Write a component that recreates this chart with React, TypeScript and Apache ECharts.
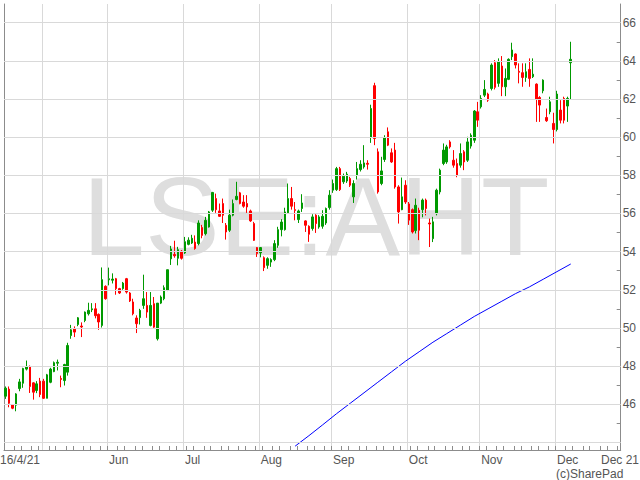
import React, { useEffect, useRef } from "react";
import * as echarts from "echarts";

// ---- Data ----
const opens = [
  46.42, 46.79, 45.98, 45.95, 46.82, 47.10, 47.84, 47.98, 47.12, 46.72, 47.21, 47.21, 46.31, 47.15, 47.71, 48.15, 47.35, 47.24, 47.68, 49.60,
  49.95, 50.18, 50.10, 50.39, 50.74, 50.95, 51.00, 50.71, 50.13, 52.18, 52.52, 52.50, 52.58, 52.06, 52.06, 52.58, 51.83, 51.36, 50.52, 50.54,
  51.18, 51.18, 50.13, 51.27, 49.43, 51.30, 51.53, 51.97, 53.62, 53.85, 53.65, 54.02, 53.93, 54.38, 54.45, 54.50, 54.42, 55.26, 54.94, 55.29,
  56.17, 56.78, 56.13, 56.52, 55.38, 55.12, 55.91, 56.73, 57.08, 56.60, 56.52, 56.13, 55.47, 54.21, 53.93, 53.68, 53.28, 53.45, 53.58, 54.33,
  55.15, 55.15, 56.03, 56.78, 56.20, 55.68, 56.26, 55.61, 55.33, 55.21, 55.91, 55.29, 55.33, 55.50, 56.31, 57.22, 57.25, 58.35, 57.66, 57.70,
  57.83, 56.87, 58.00, 58.30, 58.44, 58.63, 60.00, 62.70, 59.23, 57.57, 58.83, 60.28, 59.18, 59.32, 57.39, 56.20, 57.48, 56.50, 56.20, 55.10,
  56.17, 56.20, 56.70, 55.50, 54.68, 55.99, 57.13, 58.62, 58.70, 59.75, 58.79, 58.62, 58.53, 59.23, 58.79, 59.53, 59.84, 61.33, 61.59, 62.20,
  62.26, 62.55, 63.90, 62.82, 63.73, 62.64, 63.03, 64.22, 64.36, 63.45, 63.38, 63.13, 63.55, 63.17, 62.78, 62.08, 62.43, 61.03, 61.33, 60.72,
  60.40, 61.42, 62.03, 61.63, 63.90,
];
const closes = [
  46.84, 46.05, 45.79, 46.54, 47.17, 47.87, 47.98, 46.93, 46.63, 47.07, 46.51, 46.31, 47.54, 47.84, 48.18, 48.20, 47.30, 48.08, 49.08, 49.90,
  49.78, 50.53, 50.05, 50.83, 50.92, 51.00, 50.64, 50.31, 52.53, 51.53, 52.58, 52.56, 52.06, 51.83, 52.35, 51.88, 51.41, 50.74, 50.22, 50.92,
  51.53, 50.83, 51.18, 50.04, 51.30, 51.62, 52.11, 53.05, 54.14, 53.78, 54.10, 53.65, 54.52, 54.60, 54.70, 54.16, 55.50, 54.85, 55.64, 56.08,
  57.10, 56.20, 55.85, 55.91, 55.03, 55.91, 56.52, 56.90, 56.52, 56.38, 56.34, 55.61, 54.59, 53.90, 54.21, 53.16, 53.63, 53.58, 54.42, 55.15,
  55.55, 56.08, 56.78, 56.38, 56.16, 56.13, 56.55, 55.38, 54.91, 55.82, 55.47, 55.82, 55.85, 56.26, 56.96, 57.57, 58.35, 57.25, 57.95, 58.06,
  57.48, 57.57, 58.35, 58.58, 58.65, 58.58, 61.50, 59.93, 57.13, 58.23, 59.98, 59.58, 58.70, 57.39, 56.08, 56.87, 56.60, 55.65, 55.03, 56.43,
  55.12, 56.70, 56.26, 55.45, 55.56, 57.22, 58.27, 59.32, 59.49, 59.49, 58.53, 58.00, 59.14, 58.70, 59.75, 60.10, 61.37, 60.89, 62.03, 62.50,
  61.94, 63.78, 62.61, 63.95, 62.64, 63.08, 64.08, 64.57, 63.78, 63.40, 63.13, 63.43, 63.08, 63.30, 61.98, 61.68, 62.99, 60.86, 61.85, 60.40,
  62.26, 60.89, 60.89, 62.03, 64.08,
];
const lows = [
  46.28, 45.84, 45.74, 45.63, 46.68, 46.86, 47.77, 46.59, 46.24, 46.58, 46.37, 46.28, 46.31, 47.10, 47.68, 47.77, 46.89, 46.98, 47.50, 49.43,
  49.52, 50.09, 49.52, 50.30, 50.65, 50.83, 50.50, 49.90, 50.02, 51.48, 52.23, 52.33, 51.74, 51.78, 52.00, 51.80, 51.36, 50.66, 49.73, 50.18,
  51.00, 50.53, 50.08, 50.00, 49.34, 51.25, 51.45, 51.93, 53.30, 53.68, 53.28, 53.58, 53.88, 54.33, 54.40, 54.10, 54.33, 54.70, 54.85, 55.26,
  56.08, 56.03, 55.82, 55.50, 54.63, 55.03, 55.85, 56.69, 56.48, 56.30, 56.03, 55.56, 54.56, 53.72, 53.70, 52.98, 53.10, 53.20, 53.50, 54.20,
  54.80, 55.10, 55.99, 56.20, 55.64, 55.50, 56.08, 55.03, 54.51, 55.10, 54.98, 55.20, 55.20, 55.40, 56.20, 57.08, 57.18, 57.18, 57.55, 57.60,
  57.39, 56.55, 57.78, 58.20, 58.35, 58.30, 59.70, 59.58, 57.04, 57.48, 58.70, 59.53, 58.65, 57.30, 55.47, 56.17, 56.50, 55.40, 54.95, 54.95,
  54.60, 55.80, 55.90, 54.24, 54.50, 55.90, 57.00, 58.53, 58.60, 59.40, 58.40, 57.90, 58.40, 58.27, 58.70, 59.40, 59.70, 60.54, 61.50, 62.10,
  61.85, 62.45, 62.50, 62.64, 62.15, 62.15, 62.99, 64.04, 63.60, 62.82, 62.64, 62.90, 62.64, 63.10, 60.80, 60.80, 62.30, 60.80, 61.20, 59.67,
  60.30, 60.72, 60.72, 60.80, 61.98,
];
const highs = [
  46.93, 46.93, 46.00, 46.58, 47.33, 47.91, 48.29, 48.03, 47.15, 47.21, 47.38, 47.33, 47.59, 47.91, 48.24, 48.34, 47.50, 48.12, 49.22, 50.16,
  50.08, 50.57, 50.29, 50.86, 51.32, 51.30, 51.30, 50.76, 53.17, 52.23, 53.16, 52.86, 52.62, 52.10, 52.41, 52.62, 51.88, 51.53, 50.66, 51.00,
  52.79, 51.88, 51.88, 51.62, 51.30, 51.70, 52.23, 53.05, 54.30, 54.57, 54.25, 54.08, 54.77, 54.75, 54.88, 54.85, 55.64, 55.40, 55.82, 56.13,
  57.13, 57.04, 56.52, 56.78, 55.50, 56.20, 56.73, 57.66, 57.13, 56.96, 56.96, 56.20, 55.56, 54.24, 54.24, 53.75, 53.70, 53.65, 54.60, 55.30,
  55.70, 56.30, 57.57, 57.39, 56.60, 56.20, 57.01, 55.64, 55.38, 55.96, 55.96, 55.91, 56.17, 56.31, 57.22, 57.78, 58.44, 58.44, 58.09, 58.18,
  57.92, 57.74, 58.70, 58.79, 59.58, 58.79, 61.70, 62.85, 59.41, 58.97, 60.10, 60.51, 59.41, 59.70, 57.48, 57.88, 57.74, 56.60, 56.26, 56.78,
  56.30, 56.78, 56.78, 55.73, 55.82, 57.30, 58.35, 59.67, 59.60, 59.84, 59.32, 58.88, 59.67, 59.32, 60.02, 60.20, 61.42, 61.85, 62.20, 62.99,
  62.33, 63.87, 64.04, 64.13, 64.25, 63.60, 64.13, 64.95, 64.39, 63.87, 63.87, 63.87, 64.13, 64.13, 62.82, 62.15, 63.03, 61.50, 62.12, 61.28,
  62.43, 61.94, 62.12, 62.12, 65.00,
];
// moving-average line, read at a few category positions
const maIndex = [84, 88, 92, 96, 100, 104, 108, 112, 116, 120, 124, 128, 132, 136, 140, 144, 148, 152, 156, 160, 164];
const maValues = [43.8, 44.35, 44.92, 45.5, 46.05, 46.6, 47.15, 47.7, 48.25, 48.75, 49.25, 49.7, 50.15, 50.6, 51.0, 51.4, 51.8, 52.15, 52.55, 52.95, 53.35];

const yLabelValues = [46, 48, 50, 52, 54, 56, 58, 60, 62, 64, 66];
const yTickValues = [44, 45, 46, 47, 48, 49, 50, 51, 52, 53, 54, 55, 56, 57, 58, 59, 60, 61, 62, 63, 64, 65, 66];
const yGridValues = [44, 46, 48, 50, 52, 54, 56, 58, 60, 62, 64, 66];
const Y_MIN = 43.6;
const Y_MAX = 66.98;

const START_DATE = "2021-04-16";
const HOLIDAYS = ["2021-05-03", "2021-05-31", "2021-08-30"];
const CATEGORY_COUNT = 179;
const MONTHS = ["Jan", "Feb", "Mar", "Apr", "May", "Jun", "Jul", "Aug", "Sep", "Oct", "Nov", "Dec"];
const UNLABELLED_MONTHS = [3, 4];

function buildTradingDays(): string[] {
  const out: string[] = [];
  const d = new Date(START_DATE + "T00:00:00Z");
  while (out.length < CATEGORY_COUNT) {
    const wd = d.getUTCDay();
    const s = d.toISOString().slice(0, 10);
    if (wd !== 0 && wd !== 6 && HOLIDAYS.indexOf(s) < 0) out.push(s);
    d.setUTCDate(d.getUTCDate() + 1);
  }
  return out;
}

const FONT = "'Liberation Sans', Arial, sans-serif";

export default function App() {
  const ref = useRef<HTMLDivElement>(null);
  useEffect(() => {
    if (!ref.current) return;
    const chart = echarts.init(ref.current, undefined, { renderer: "svg" });
    const dates = buildTradingDays();
    const monthOf = (s: string) => parseInt(s.slice(5, 7), 10) - 1;
    const isMonthStart = (i: number) => i > 0 && monthOf(dates[i]) !== monthOf(dates[i - 1]);
    const candleData = opens.map((o, i) => [o, closes[i], lows[i], highs[i]]);
    const maData: (number | string)[] = dates.map(() => "-");
    maIndex.forEach((idx, k) => (maData[idx] = maValues[k]));

    chart.setOption({
      animation: false,
      backgroundColor: "#ffffff",
      textStyle: { fontFamily: FONT },
      grid: { left: 4, right: 19.3, top: 4, bottom: 30, containLabel: false },
      xAxis: {
        type: "category",
        data: dates,
        boundaryGap: true,
        axisLine: { show: true, lineStyle: { color: "#8c8c8c", width: 1 } },
        axisTick: {
          show: true,
          inside: true,
          length: 4,
          interval: (i: number) => (i * 2) % 5 < 2,
          lineStyle: { color: "#8c8c8c" },
        },
        axisLabel: {
          interval: (i: number) => isMonthStart(i) && UNLABELLED_MONTHS.indexOf(monthOf(dates[i])) < 0,
          formatter: (v: string) => MONTHS[monthOf(v)],
          align: "left",
          color: "#555555",
          fontSize: 12,
          fontFamily: FONT,
          margin: 4,
        },
        splitLine: {
          show: true,
          interval: (i: number) => isMonthStart(i),
          lineStyle: { color: "#d9d9d9", width: 1 },
        },
      },
      yAxis: [
        {
          type: "value",
          position: "right",
          min: Y_MIN,
          max: Y_MAX,
          axisLine: { show: true, lineStyle: { color: "#8c8c8c", width: 1 } },
          axisTick: { show: true, inside: true, length: 4, customValues: yTickValues, lineStyle: { color: "#8c8c8c" } },
          axisLabel: { show: true, customValues: yLabelValues, color: "#555555", fontSize: 12, fontFamily: FONT, margin: 2 },
          splitLine: { show: false },
        },
        {
          type: "value",
          position: "left",
          min: Y_MIN,
          max: Y_MAX,
          axisLine: { show: true, lineStyle: { color: "#8c8c8c", width: 1 } },
          axisTick: { show: false },
          axisLabel: { show: false },
          splitLine: { show: false },
        },
      ],
      series: [
        {
          type: "line",
          name: "MA",
          data: maData,
          yAxisIndex: 0,
          connectNulls: true,
          showSymbol: false,
          symbol: "none",
          lineStyle: { color: "#0000ff", width: 1 },
          clip: true,
          markLine: {
            silent: true,
            symbol: ["none", "none"],
            label: { show: false },
            lineStyle: { color: "#d9d9d9", type: "solid", width: 1 },
            data: yGridValues.map((v) => ({ yAxis: v })),
          },
        },
        {
          type: "candlestick",
          name: "LSE:AHT",
          data: candleData,
          yAxisIndex: 0,
          barWidth: 2,
          itemStyle: {
            color: "#009900",
            color0: "#ff0000",
            borderColor: "#009900",
            borderColor0: "#ff0000",
            borderWidth: 1,
          },
        },
      ],
      graphic: {
        elements: [
          {
            type: "text",
            x: 316,
            y: 216,
            z: -10,
            silent: true,
            style: {
              text: "LSE:AHT",
              fontSize: 112,
              fontFamily: FONT,
              fill: "#dedede",
              textAlign: "center",
              textVerticalAlign: "middle",
            },
          },
          {
            type: "text",
            x: 0,
            y: 460,
            style: { text: "16/4/21", fontSize: 12, fontFamily: FONT, fill: "#555555", textAlign: "left", textVerticalAlign: "middle" },
          },
          {
            type: "text",
            x: 639,
            y: 460,
            style: { text: "Dec 21", fontSize: 12, fontFamily: FONT, fill: "#555555", textAlign: "right", textVerticalAlign: "middle" },
          },
          {
            type: "text",
            x: 556,
            y: 474,
            style: { text: "(c)SharePad", fontSize: 12, fontFamily: FONT, fill: "#555555", textAlign: "left", textVerticalAlign: "middle" },
          },
        ],
      },
    });
    return () => chart.dispose();
  }, []);
  return (
    <div
      ref={ref}
      style={{ position: "fixed", left: 0, top: 0, width: 640, height: 480, background: "#ffffff" }}
    />
  );
}
